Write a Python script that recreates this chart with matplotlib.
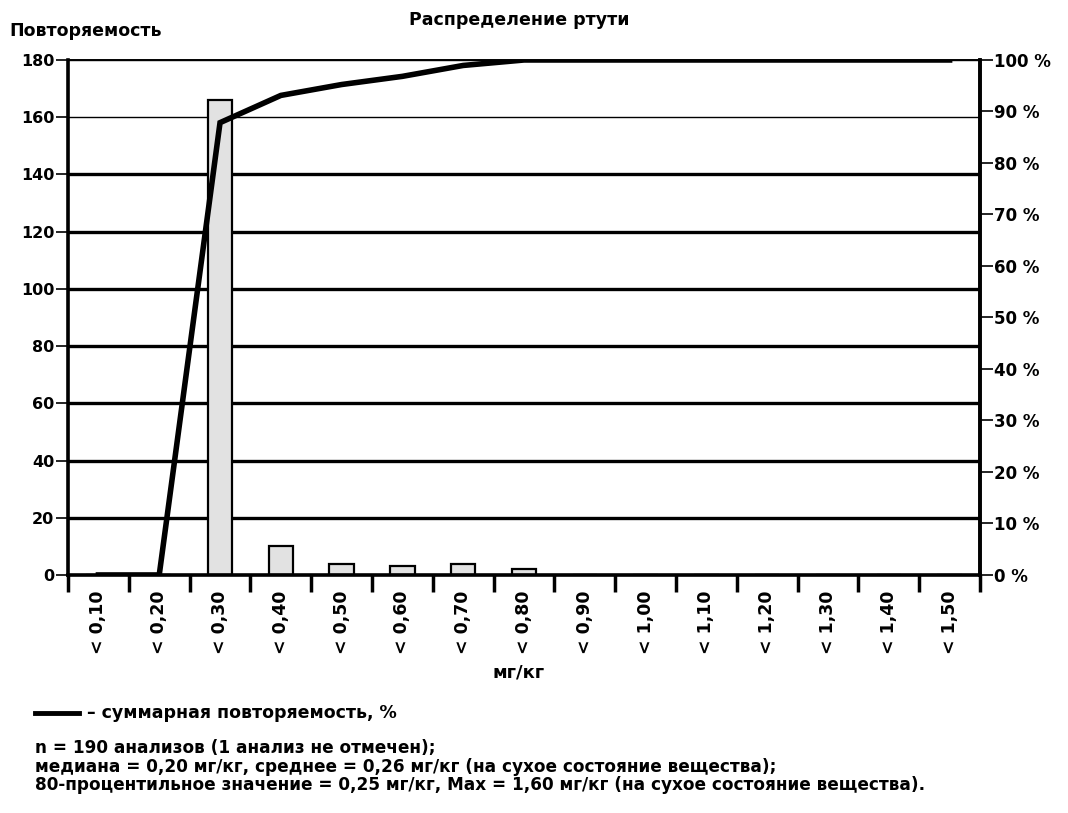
import numpy as np
import matplotlib
matplotlib.use("Agg")
import matplotlib.pyplot as plt
from matplotlib.lines import Line2D

plt.rcParams['font.family'] = ['DejaVu Sans']
plt.rcParams['font.weight'] = 'bold'

# --- data ---
categories = ["< 0,10", "< 0,20", "< 0,30", "< 0,40", "< 0,50", "< 0,60", "< 0,70",
              "< 0,80", "< 0,90", "< 1,00", "< 1,10", "< 1,20", "< 1,30", "< 1,40", "< 1,50"]
counts = [0, 0, 166, 10, 4, 3, 4, 2, 0, 0, 0, 0, 0, 0, 0]
left_ticks = [0, 20, 40, 60, 80, 100, 120, 140, 160, 180]
right_ticks = [0, 10, 20, 30, 40, 50, 60, 70, 80, 90, 100]

cum_pct = np.cumsum(counts) / np.sum(counts) * 100

fig = plt.figure(figsize=(10.68, 8.13), dpi=100)
ax = fig.add_axes([0.0637, 0.2928, 0.8539, 0.6334])
x = np.arange(len(categories))

ax.bar(x, counts, width=0.4, color="#e2e2e2", edgecolor="black", linewidth=1.6, zorder=2)
ax.set_xlim(-0.5, len(categories) - 0.5)
ax.set_ylim(0, 180)
ax.set_yticks(left_ticks)
ax.set_yticklabels([str(t) for t in left_ticks], fontsize=11.5, fontweight='bold')
ax.set_axisbelow(True)

# horizontal grid lines (thick, except 160/180 which are thin in the original)
for t in left_ticks[1:]:
    lw = 1.0 if t in (160, 180) else 2.4
    ax.axhline(t, color="black", linewidth=lw, zorder=1)

# category boundaries as ticks
ax.set_xticks(np.arange(-0.5, len(categories) + 0.5, 1.0))
ax.set_xticklabels([])
ax.set_xticks(x, minor=True)
ax.set_xticklabels(categories, minor=True, rotation=90, fontsize=12.5, fontweight='bold')
ax.tick_params(axis='x', which='major', direction='out', length=12, width=2.5)
ax.tick_params(axis='x', which='minor', length=0, pad=11)
ax.tick_params(axis='y', direction='out', length=9, width=1.2, pad=1)

for side in ("left", "bottom", "right"):
    ax.spines[side].set_linewidth(2.6)
ax.spines["top"].set_linewidth(1.2)

ax2 = ax.twinx()
ax2.plot(x, cum_pct, color="black", linewidth=4, solid_joinstyle='miter', zorder=3)
ax2.set_ylim(0, 100)
ax2.set_yticks(right_ticks)
ax2.set_yticklabels([f"{t} %" for t in right_ticks], fontsize=12, fontweight='bold')
ax2.tick_params(axis='y', direction='out', length=9, width=1.2, pad=1)
ax2.spines["right"].set_linewidth(2.6)
ax2.spines["top"].set_linewidth(1.2)

fig.text(0.486, 0.976, "Распределение ртути", ha='center', va='center',
         fontsize=12.5, fontweight='bold')
fig.text(0.009, 0.962, "Повторяемость", ha='left', va='center',
         fontsize=12.5, fontweight='bold')
fig.text(0.486, 0.173, "мг/кг", ha='center', va='center', fontsize=13, fontweight='bold')

# legend line and notes
fig.add_artist(Line2D([0.033, 0.074], [0.123, 0.123], color="black", linewidth=3.5))
fig.text(0.081, 0.123, "– суммарная повторяемость, %", ha='left', va='center',
         fontsize=12.5, fontweight='bold')
notes = [
    "n = 190 анализов (1 анализ не отмечен);",
    "медиана = 0,20 мг/кг, среднее = 0,26 мг/кг (на сухое состояние вещества);",
    "80-процентильное значение = 0,25 мг/кг, Max = 1,60 мг/кг (на сухое состояние вещества).",
]
for i, line in enumerate(notes):
    fig.text(0.033, 0.080 - i * 0.023, line, ha='left', va='center',
             fontsize=12.2, fontweight='bold')

fig.savefig("out.png", dpi=100)
